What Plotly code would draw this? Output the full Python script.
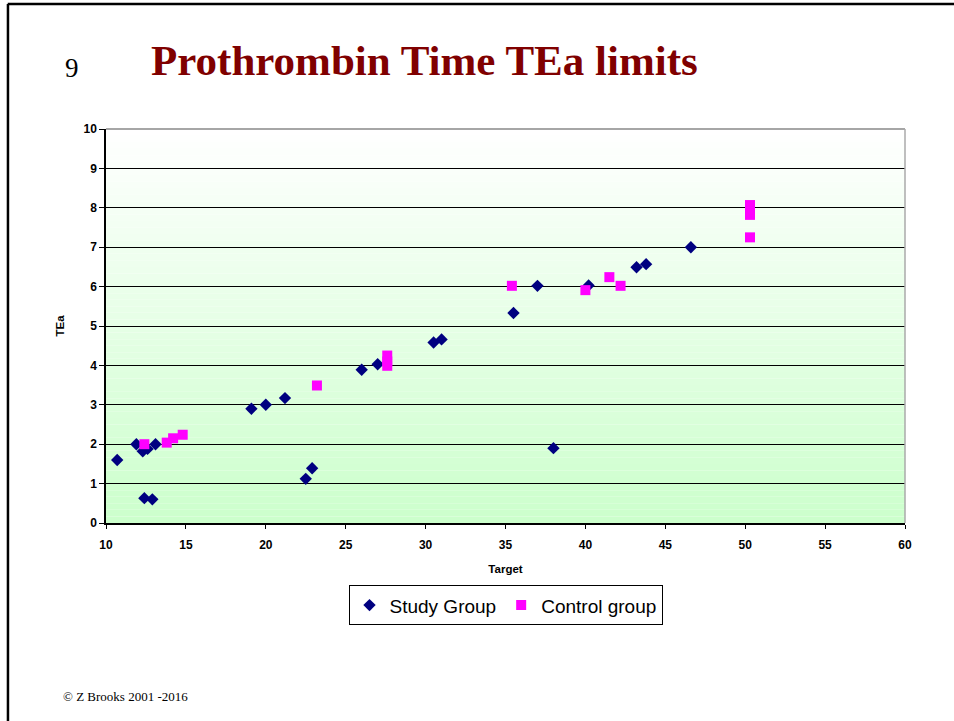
import plotly.graph_objects as go

# Study group (navy diamonds)
study_target = [10.7, 11.9, 12.3, 12.6, 13.1, 12.4, 12.9, 19.1, 20.0, 21.2, 22.5, 22.9,
                26.0, 27.0, 30.5, 31.0, 35.5, 37.0, 38.0, 40.2, 43.2, 43.8, 46.6]
study_tea = [1.6, 2.0, 1.82, 1.88, 2.0, 0.63, 0.6, 2.9, 3.0, 3.17, 1.12, 1.39,
             3.89, 4.03, 4.58, 4.66, 5.33, 6.02, 1.9, 6.03, 6.49, 6.57, 7.0]

# Control group (magenta squares)
control_target = [12.4, 13.8, 14.2, 14.8, 23.2, 27.6, 27.6, 27.6, 35.4, 40.0, 41.5, 42.2,
                  50.3, 50.3, 50.3, 50.3]
control_tea = [2.0, 2.04, 2.15, 2.24, 3.49, 4.25, 4.1, 3.99, 6.02, 5.91, 6.24, 6.02,
               8.07, 7.95, 7.82, 7.25]

x_ticks = [10, 15, 20, 25, 30, 35, 40, 45, 50, 55, 60]
y_ticks = list(range(0, 11))

fig = go.Figure()
fig.add_trace(go.Scatter(
    x=study_target, y=study_tea, mode='markers', name='Study Group',
    marker=dict(symbol='diamond', size=9.5, color='#000080'),
))
fig.add_trace(go.Scatter(
    x=control_target, y=control_tea, mode='markers', name='Control group',
    marker=dict(symbol='square', size=10, color='#ff00ff'),
))

# white -> pale green gradient behind the plot area
n = 60
shapes = []
for i in range(n):
    t = i / (n - 1)
    c = int(round(255 - (255 - 204) * t))
    shapes.append(dict(
        type='rect', xref='x domain', yref='y domain', layer='below',
        x0=0, x1=1, y0=1 - (i + 1) / n, y1=1 - i / n,
        fillcolor='rgb(%d,255,%d)' % (c, c), line=dict(width=0),
    ))
# plot area frame (grey top/right)
shapes.append(dict(type='line', xref='x domain', yref='y domain', x0=0, x1=1, y0=1, y1=1,
                   line=dict(color='#888888', width=1.5)))
shapes.append(dict(type='line', xref='x domain', yref='y domain', x0=1, x1=1, y0=0, y1=1,
                   line=dict(color='#aaaaaa', width=1.5)))
# slide frame
shapes.append(dict(type='line', xref='paper', yref='paper', x0=-0.123, x1=1.1,
                   y0=1.317, y1=1.317, line=dict(color='black', width=2.5)))
shapes.append(dict(type='line', xref='paper', yref='paper', x0=-0.1227, x1=-0.1227,
                   y0=-0.51, y1=1.317, line=dict(color='black', width=2.5)))

fig.update_layout(
    width=954, height=721,
    margin=dict(l=106, r=49, t=129, b=198),
    paper_bgcolor='white', plot_bgcolor='white',
    shapes=shapes,
    showlegend=True,
    legend=dict(
        orientation='h', x=0.5, xanchor='center', y=-0.158, yanchor='top',
        bordercolor='black', borderwidth=1, bgcolor='white',
        font=dict(family='Liberation Sans, Arial', size=19, color='black'),
        itemwidth=30, tracegroupgap=0,
    ),
    font=dict(family='Liberation Sans, Arial', color='black'),
    xaxis=dict(
        range=[10, 60], tickvals=x_ticks, showgrid=False, zeroline=False,
        showline=True, linecolor='black', linewidth=1.5,
        ticks='outside', ticklen=4, tickcolor='black', ticklabelstandoff=6,
        tickfont=dict(size=12, family='Liberation Sans, Arial', weight='bold'),
        title=dict(text='<b>Target</b>', font=dict(size=11.5), standoff=14),
    ),
    yaxis=dict(
        range=[0, 10], tickvals=y_ticks, showgrid=True, gridcolor='black', gridwidth=1,
        zeroline=False, showline=True, linecolor='black', linewidth=1.5,
        ticks='outside', ticklen=5, tickcolor='black',
        tickfont=dict(size=12, family='Liberation Sans, Arial', weight='bold'),
        title=dict(text='<b>TEa</b>', font=dict(size=11.5), standoff=16),
    ),
    annotations=[
        dict(text='<b>Prothrombin Time TEa limits</b>', xref='paper', yref='paper',
             x=0.399, y=1.175, xanchor='center', yanchor='middle', showarrow=False,
             font=dict(family='Liberation Serif, Times New Roman', size=43, color='#800000')),
        dict(text='9', xref='paper', yref='paper', x=-0.042, y=1.155,
             xanchor='center', yanchor='middle', showarrow=False,
             font=dict(family='Liberation Serif, Times New Roman', size=27, color='black')),
        dict(text='© Z Brooks 2001 -2016', xref='paper', yref='paper', x=-0.056, y=-0.44,
             xanchor='left', yanchor='middle', showarrow=False,
             font=dict(family='Liberation Serif, Times New Roman', size=13, color='black')),
    ],
)

# drop the default 8px page margin so the figure fills the window exactly
fig.write_html("out.html", config={'displayModeBar': False},
               post_script="document.body.style.margin='0';document.body.style.overflow='hidden';")
